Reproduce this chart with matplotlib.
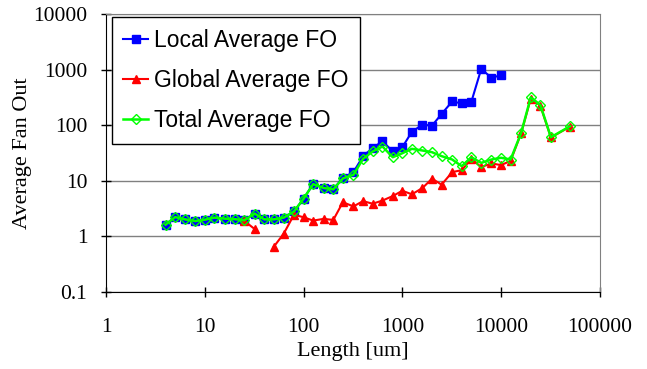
import numpy as np
import matplotlib
matplotlib.use("Agg")
import matplotlib.pyplot as plt

nan = np.nan

# Wire length bins [um]
length = [4, 5, 6.3, 8, 10, 12.5, 16, 20, 25, 32, 40, 50, 63, 80, 100, 125, 160, 200,
          250, 320, 400, 500, 630, 800, 1000, 1250, 1600, 2000, 2500, 3200, 4000, 5000,
          6300, 8000, 10000, 12500, 16000, 20000, 25000, 32000, 50000]

local_fo = [1.62, 2.22, 2.02, 1.88, 1.99, 2.17, 2.08, 2.04, 1.94, 2.56, 2.02, 2.02, 2.17,
            2.8, 4.75, 8.7, 7.4, 7.0, 11.3, 14.3, 27.5, 39, 51, 34, 40, 76, 102, 98, 159,
            267, 246, 262, 1025, 715, 790, nan, nan, nan, nan, nan, nan]

global_fo = [nan, nan, nan, nan, nan, nan, nan, nan, 1.9, 1.35, nan, 0.65, 1.12, 2.45,
             2.2, 1.92, 2.06, 1.97, 4.1, 3.45, 4.3, 3.86, 4.4, 5.3, 6.6, 5.7, 7.4, 10.9,
             8.5, 14.3, 15.5, 24.8, 17.6, 20.5, 19.1, 22.8, 72, 300, 225, 60, 94]

total_fo = [1.62, 2.22, 2.02, 1.88, 1.99, 2.17, 2.08, 2.04, 1.94, 2.56, 2.02, 2.02, 2.17,
            2.8, 4.75, 8.7, 7.4, 7.0, 11.0, 12.8, 24.8, 33.6, 41.3, 26.5, 31.3, 37.5, 35,
            32.6, 27.7, 24.1, 18.3, 26.5, 21, 24.1, 25.9, 24.1, 72.8, 317, 231, 60.7, 95.6]

xticks = [1, 10, 100, 1000, 10000, 100000]
xtick_labels = ["1", "10", "100", "1000", "10000", "100000"]
yticks = [0.1, 1, 10, 100, 1000, 10000]
ytick_labels = ["0.1", "1", "10", "100", "1000", "10000"]

serif = ["Liberation Serif", "DejaVu Serif"]
sans = ["Liberation Sans", "DejaVu Sans"]

fig = plt.figure(figsize=(6.47, 3.69), dpi=100)
ax = fig.add_axes([0.164, 0.209, 0.763, 0.753])

ax.plot(length, local_fo, color="#0000ff", lw=1.5, marker="s", ms=5.4,
        label="Local Average FO")
ax.plot(length, global_fo, color="#ff0000", lw=1.5, marker="^", ms=6,
        label="Global Average FO")
ax.plot(length, total_fo, color="#00ff00", lw=1.8, marker="D", ms=4.6,
        mfc="none", mec="#00ff00", mew=1, label="Total Average FO")

ax.set_xscale("log")
ax.set_yscale("log")
ax.set_xlim(1, 100000)
ax.set_ylim(0.1, 10000)

ax.set_xticks(xticks)
ax.set_xticklabels(xtick_labels)
ax.set_yticks(yticks)
ax.set_yticklabels(ytick_labels)
ax.minorticks_off()
ax.tick_params(direction="inout", length=7, width=1, color="black")
ax.tick_params(axis="x", pad=15)
ax.tick_params(axis="y", pad=10)
for lab in ax.get_xticklabels() + ax.get_yticklabels():
    lab.set_family(serif)
    lab.set_fontsize(15.5)

# horizontal grid only, grey frame on top/right
ax.yaxis.grid(True, color="#808080", lw=1)
ax.set_axisbelow(True)
ax.spines["top"].set_color("#808080")
ax.spines["right"].set_color("#808080")
ax.spines["left"].set_color("black")
ax.spines["bottom"].set_color("black")

ax.set_xlabel("Length [um]", family=serif, fontsize=16, labelpad=4)
ax.set_ylabel("Average Fan Out", family=serif, fontsize=16, labelpad=1)

leg = ax.legend(loc="upper left", bbox_to_anchor=(0.012, 0.989), frameon=True,
                fancybox=False, framealpha=1, edgecolor="black",
                prop={"family": sans, "size": 16.5}, handlelength=1.05,
                handletextpad=0.3, labelspacing=0.76, borderpad=0.5,
                borderaxespad=0)
leg.get_frame().set_linewidth(1)

fig.savefig("out.png", dpi=100)
